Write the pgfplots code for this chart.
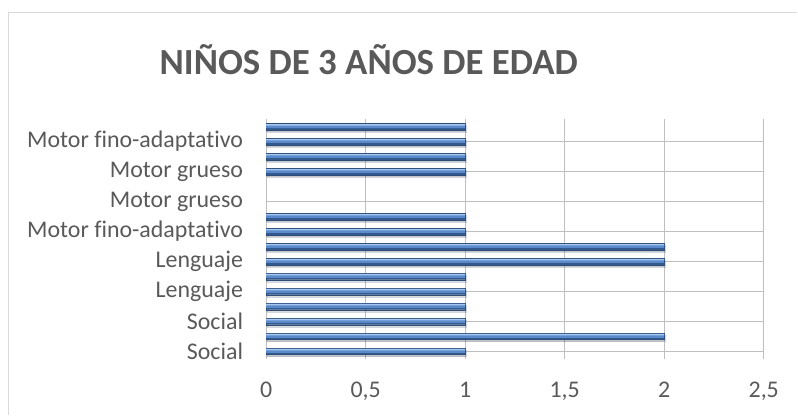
\documentclass[border=0pt]{standalone}
\usepackage{pgfplots}
\pgfplotsset{compat=1.18}
\usepackage{fontspec}
\setmainfont{Carlito}[Ligatures=NoCommon]
\usetikzlibrary{shadows}
\definecolor{txt}{HTML}{595959}
\definecolor{grid}{HTML}{D9D9D9}
\definecolor{barmid}{HTML}{5A8ACB}
\definecolor{bartop}{HTML}{A8C7EE}
\definecolor{barbot}{HTML}{34598C}
\definecolor{bardraw}{HTML}{2D4D7C}
\pgfplotstableread{
x y
1 0
2 1
1 2
1 3
1 4
1 5
2 6
2 7
1 8
1 9
1 12
1 13
1 14
1 15
}\bars
\begin{document}
\begin{tikzpicture}[x=1bp,y=1bp]
\path (0,0) rectangle (798,415);
\draw[grid,line width=1.2bp] (8.5,0) -- (8.5,402.5) -- (798,402.5);
\node[anchor=base,text=txt,font=\fontsize{37}{40}\selectfont\bfseries] at (369,340) {NIÑOS DE 3 AÑOS DE EDAD};
\begin{axis}[
  at={(266.4bp,55.8bp)}, anchor=south west,
  scale only axis, width=497.9bp, height=240bp,
  xbar,
  xmin=0, xmax=2.5, ymin=-0.5, ymax=15.5,
  xtick={0,0.5,1,1.5,2,2.5},
  ytick={0,2,4,6,8,10,12,14},
  yticklabels={Social,Social,Lenguaje,Lenguaje,Motor fino-adaptativo,Motor grueso,Motor grueso,Motor fino-adaptativo},
  /pgf/number format/use comma,
  /pgf/number format/assume math mode=true,
  xmajorgrids, major grid style={grid,line width=1bp},
  axis line style={draw=none},
  major tick length=0pt,
  ticklabel style={text=txt,font=\fontsize{24}{27}\selectfont},
  yticklabel style={anchor=east,inner sep=0pt,xshift=-23bp},
  xticklabel style={anchor=north,inner sep=0pt,yshift=-23bp},
  clip=false,
]
\addplot[xbar, bar width=6.5bp, bar shift=0bp, draw=bardraw, line width=0.4bp, fill=barbot,
  drop shadow={shadow xshift=0.5bp, shadow yshift=-2bp, opacity=0.22, fill=black}]
  table[x=x,y=y] {\bars};
\addplot[xbar, bar width=4bp, bar shift=0.6bp, draw=none, fill=barmid]
  table[x=x,y=y] {\bars};
\addplot[xbar, bar width=1.4bp, bar shift=1.8bp, draw=none, fill=bartop]
  table[x=x,y=y] {\bars};
\end{axis}
\end{tikzpicture}
\end{document}
